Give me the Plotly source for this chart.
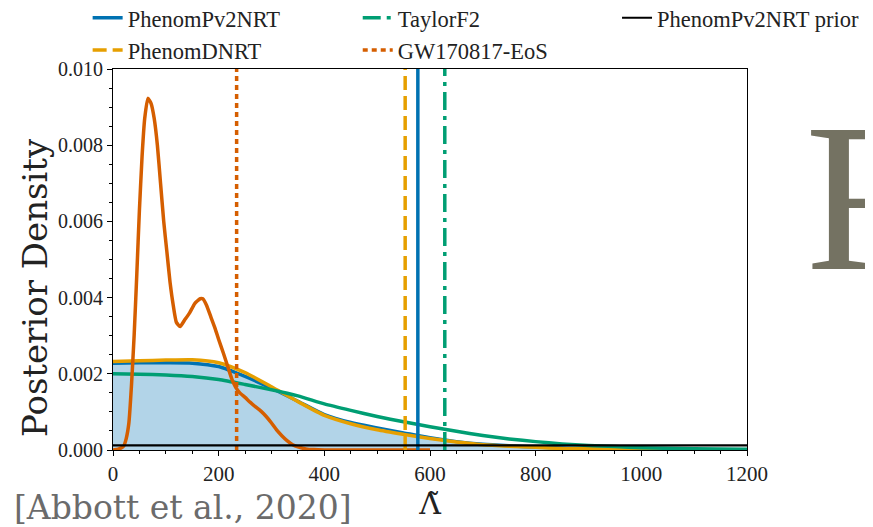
import plotly.graph_objects as go

# ---------------- data ----------------
lam_grid = [0, 50, 100, 150, 200, 250, 300, 350, 400, 450, 500, 550, 600,
            650, 700, 750, 800, 850, 900, 950, 1000, 1100, 1200]
dens_pv2nrt = [0.00228, 0.00229, 0.00229, 0.00228, 0.00219, 0.00193, 0.00162,
               0.00128, 0.00093, 0.00072, 0.00058, 0.00045, 0.00032, 0.00022,
               0.00015, 0.00011, 0.00008, 0.00005, 0.00003, 0.00002, 0.00001,
               0.000005, 0.0]
dens_dnrt = [0.00232, 0.00234, 0.00236, 0.00237, 0.00229, 0.00203, 0.00166,
             0.00127, 0.00091, 0.00069, 0.00053, 0.00041, 0.00030, 0.00021,
             0.00014, 0.0001, 0.00007, 0.00004, 0.00003, 0.00002, 0.00001,
             0.000005, 0.0]
dens_taylorf2 = [0.00200, 0.00199, 0.00197, 0.00193, 0.00185, 0.00172, 0.00158,
                 0.00142, 0.00121, 0.00104, 0.00088, 0.00074, 0.00061, 0.00049,
                 0.00038, 0.00029, 0.00022, 0.00016, 0.00012, 0.00009, 0.00006,
                 0.00003, 0.00002]

lam_eos = [0, 10, 20, 25, 30, 35, 40, 45, 50, 55, 60, 66, 72, 78, 84, 90, 96,
           102, 108, 114, 120, 127, 135, 145, 155, 165, 170, 177, 185, 193,
           200, 209, 217, 225, 232, 240, 250, 260, 270, 280, 290, 300, 310,
           320, 330, 340, 350, 365, 380, 400, 500, 600]
dens_eos = [0.0, 0.00002, 0.0001, 0.0003, 0.0007, 0.0017, 0.0030, 0.0046,
            0.0063, 0.0077, 0.0087, 0.00923, 0.0091, 0.0087, 0.0080, 0.0070,
            0.0060, 0.0052, 0.0044, 0.0038, 0.00335, 0.00324, 0.0034, 0.0036,
            0.00385, 0.00397, 0.00397, 0.0038, 0.0035, 0.0032, 0.0029,
            0.00254, 0.0022, 0.00186, 0.00165, 0.0015, 0.00138, 0.00125,
            0.00113, 0.00102, 0.00088, 0.00071, 0.00052, 0.00037, 0.00024,
            0.00014, 0.00008, 0.00003, 0.00001, 0.0, 0.0, 0.0]

prior_lam = [0, 1200]
prior_dens = [0.00012, 0.00012]

# Vertical reference lines (median values)
vline_lam = {"PhenomPv2NRT": 577, "PhenomDNRT": 553, "TaylorF2": 628, "GW170817-EoS": 234}

x_ticks = [0, 200, 400, 600, 800, 1000, 1200]
y_ticks = [0.000, 0.002, 0.004, 0.006, 0.008, 0.010]

# ---------------- style ----------------
C_BLUE = "#0072B2"
C_ORANGE = "#E69F00"
C_GREEN = "#009E73"
C_VERM = "#D55E00"
FONT = "Liberation Serif"
WIDE = "DejaVu Serif"
TXT = "#222222"
LW = 3.5

fig = go.Figure()

fig.add_trace(go.Scatter(x=lam_grid, y=dens_pv2nrt, mode="lines", fill="tozeroy",
                         fillcolor="rgba(0,114,178,0.3)",
                         line=dict(color=C_BLUE, width=LW, shape="spline", smoothing=0.6),
                         showlegend=False, hoverinfo="skip"))
fig.add_trace(go.Scatter(x=lam_grid, y=dens_dnrt, mode="lines",
                         line=dict(color=C_ORANGE, width=LW, shape="spline", smoothing=0.6),
                         showlegend=False))
fig.add_trace(go.Scatter(x=lam_grid, y=dens_taylorf2, mode="lines",
                         line=dict(color=C_GREEN, width=LW, shape="spline", smoothing=0.6),
                         showlegend=False))
fig.add_trace(go.Scatter(x=lam_eos, y=dens_eos, mode="lines",
                         line=dict(color=C_VERM, width=LW, shape="spline", smoothing=0.5),
                         showlegend=False))

vl_style = {
    "PhenomPv2NRT": (C_BLUE, "solid", "legend"),
    "PhenomDNRT": (C_ORANGE, "14px,6px", "legend"),
    "TaylorF2": (C_GREEN, "18px,6px,4px,6px", "legend2"),
    "GW170817-EoS": (C_VERM, "5px,4px", "legend2"),
}
for name in ["PhenomPv2NRT", "PhenomDNRT", "TaylorF2", "GW170817-EoS"]:
    col, dash, lg = vl_style[name]
    v = vline_lam[name]
    fig.add_trace(go.Scatter(x=[v, v], y=[0, 0.010], mode="lines", name=name,
                             line=dict(color=col, width=LW, dash=dash),
                             legend=lg, legendgroup=name))

fig.add_trace(go.Scatter(x=prior_lam, y=prior_dens, mode="lines", name="PhenomPv2NRT prior",
                         line=dict(color="black", width=2.2), legend="legend3"))


def leg(x):
    return dict(x=x, y=1.19, orientation="v", xanchor="left", yanchor="top",
                font=dict(family=FONT, size=22.5, color=TXT),
                bgcolor="rgba(0,0,0,0)", tracegroupgap=0)


# the page body adds an 8px offset; margins compensate so the plot lands at
# x 113..747, y 69..450 in the window
fig.update_layout(
    width=857, height=527,
    margin=dict(l=105, r=118, t=61, b=85, autoexpand=False),
    paper_bgcolor="white", plot_bgcolor="white",
    font=dict(family=FONT, size=21, color=TXT),
    legend=leg(-0.04),
    legend2=leg(0.386),
    legend3=leg(0.795),
    xaxis=dict(range=[0, 1200], tickvals=x_ticks, ticks="outside", ticklen=5,
               tickwidth=1, tickcolor="black", showline=True, linecolor="black",
               linewidth=1.2, mirror=True, showgrid=False, zeroline=False,
               tickfont=dict(family=FONT, size=21, color=TXT),
               minor=dict(dtick=50, ticks="outside", ticklen=3, tickcolor="black", showgrid=False),
               title=dict(text="Λ̃", font=dict(family=WIDE, size=30, color=TXT), standoff=0)),
    yaxis=dict(range=[0, 0.010], tickvals=y_ticks, tickformat=".3f", ticks="outside",
               ticklen=5, tickwidth=1, tickcolor="black", showline=True, linecolor="black",
               linewidth=1.2, mirror=True, showgrid=False, zeroline=False,
               tickfont=dict(family=FONT, size=20, color=TXT),
               minor=dict(dtick=0.0005, ticks="outside", ticklen=3, tickcolor="black", showgrid=False)),
    annotations=[
        dict(text="Posterior Density", xref="paper", yref="paper", x=-0.123, y=0.425,
             xanchor="center", yanchor="middle", textangle=-90, showarrow=False,
             font=dict(family=WIDE, size=34, color=TXT)),
        dict(text="[Abbott et al., 2020]", xref="paper", yref="paper", x=-0.159, y=-0.152,
             xanchor="left", yanchor="middle", showarrow=False,
             font=dict(family=WIDE, size=33, color="#6b6b6b")),
        dict(text="R", xref="paper", yref="paper", x=1.089, y=0.662,
             xanchor="left", yanchor="middle", showarrow=False,
             font=dict(family=FONT, size=212, color="#747262")),
    ],
)

fig.write_html("out.html")
